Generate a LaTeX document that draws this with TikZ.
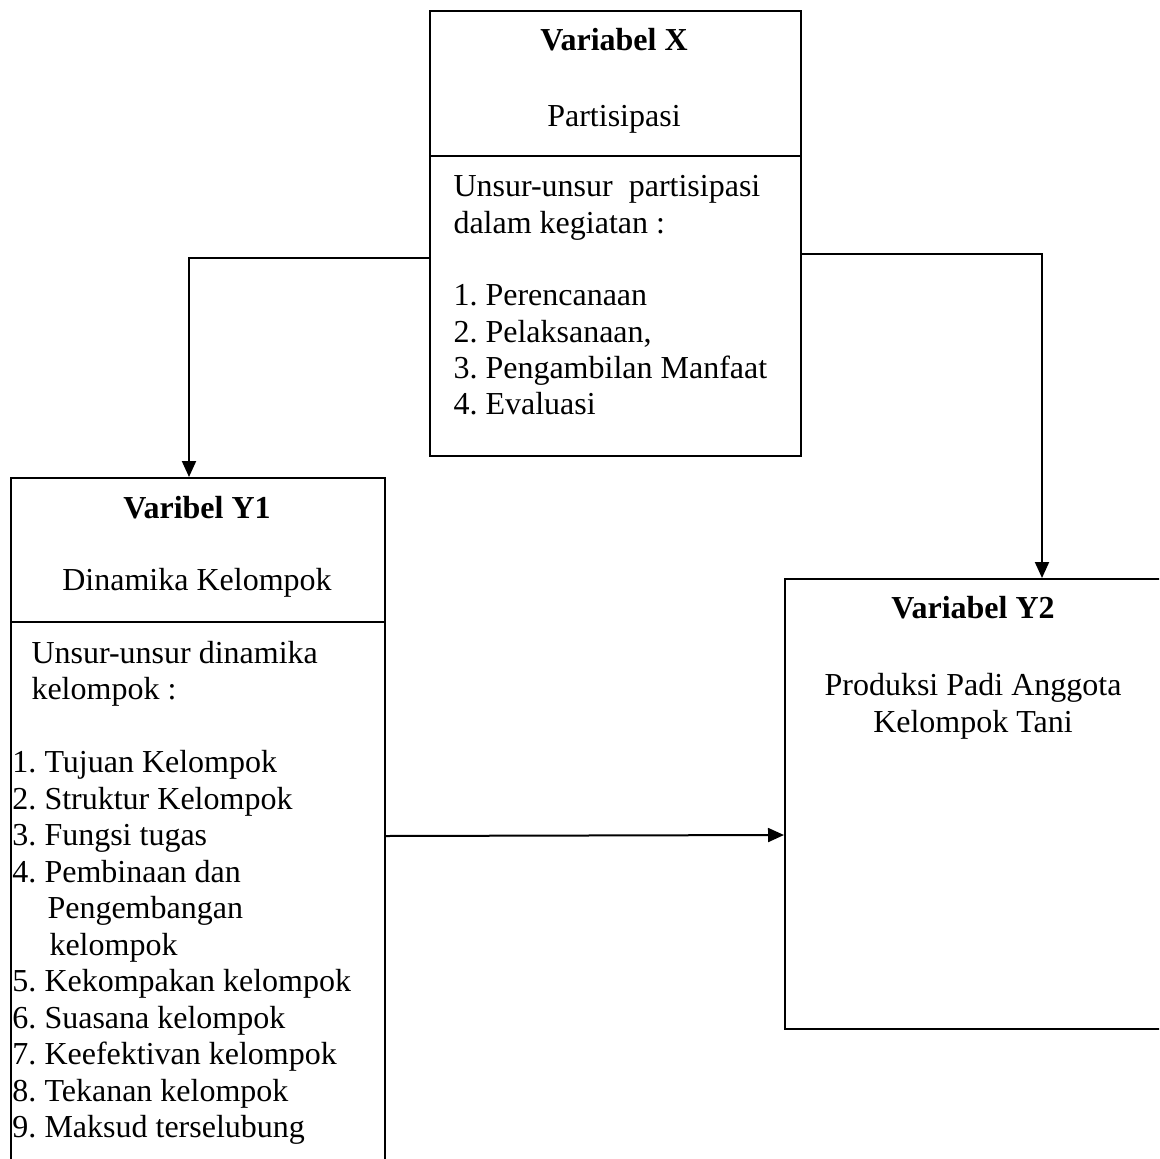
\documentclass[tikz,border=0pt]{standalone}
\usepackage{fontspec}
\setmainfont{Liberation Serif}
\usetikzlibrary{arrows.meta}
\frenchspacing
\begin{document}
\begin{tikzpicture}[x=0.4pt,y=-0.4pt,
  box/.style={draw,line width=0.8pt,rectangle,inner sep=0pt,anchor=north west},
  conn/.style={line width=0.8pt},
  arr/.style={conn,-{Triangle[length=6.4pt,width=5.6pt]}},
  txt/.style={inner sep=0pt,font=\fontsize{12.8}{15}\selectfont\frenchspacing},
  head/.style={txt,anchor=base,font=\fontsize{12.8}{15}\selectfont\bfseries},
  ctxt/.style={txt,anchor=base},
  ltxt/.style={txt,anchor=base west}]
\useasboundingbox (0,0) rectangle (1159,1159);
\clip (0,0) rectangle (1159,1159);

% boxes
\node[box,minimum width=148.4pt,minimum height=178pt] (X) at (429,10) {};
\node[box,minimum width=149.6pt,minimum height=281.2pt] (Y1) at (10,477) {};
\node[box,minimum width=152.4pt,minimum height=180pt] (Y2) at (784,578) {};

% dividers
\draw[conn] (X.west |- 0,156) -- (X.east |- 0,156);
\draw[conn] (Y1.west |- 0,622) -- (Y1.east |- 0,622);

% Variabel X
\node[head] (xh) at (614,51) {Variabel X};
\node[ctxt] (xs) at (614,126) {Partisipasi};
\node[ltxt] (x1) at (453,197) {Unsur-unsur\ \ partisipasi};
\node[ltxt] (x2) at (453,233.3) {dalam kegiatan :};
\node[ltxt] (x3) at (453,305.9) {1. Perencanaan};
\node[ltxt] (x4) at (453,342.2) {2. Pelaksanaan,};
\node[ltxt] (x5) at (453,378.5) {3. Pengambilan Manfaat};
\node[ltxt] (x6) at (453,414.8) {4. Evaluasi};

% Varibel Y1
\node[head] (yh) at (197,518) {Varibel Y1};
\node[ctxt] (ys) at (197,590) {Dinamika Kelompok};
\node[ltxt] (y1) at (31,663) {Unsur-unsur dinamika};
\node[ltxt] (y2) at (31,699.5) {kelompok :};
\node[ltxt] (y3) at (12,772.5) {1. Tujuan Kelompok};
\node[ltxt] (y4) at (12,809) {2. Struktur Kelompok};
\node[ltxt] (y5) at (12,845.5) {3. Fungsi tugas};
\node[ltxt] (y6) at (12,882) {4. Pembinaan dan};
\node[ltxt] (y7) at (47,918.5) {Pengembangan};
\node[ltxt] (y8) at (49,955) {kelompok};
\node[ltxt] (y9) at (12,991.5) {5. Kekompakan kelompok};
\node[ltxt] (y10) at (12,1028) {6. Suasana kelompok};
\node[ltxt] (y11) at (12,1064.5) {7. Keefektivan kelompok};
\node[ltxt] (y12) at (12,1101) {8. Tekanan kelompok};
\node[ltxt] (y13) at (12,1137.5) {9. Maksud terselubung};

% Variabel Y2
\node[head] (zh) at (973,618) {Variabel Y2};
\node[ctxt] (z1) at (973,695) {Produksi Padi Anggota};
\node[ctxt] (z2) at (973,732) {Kelompok Tani};

% connectors
\coordinate (lc) at (189,258);
\coordinate (rc) at (1042,254);
\draw[arr] (X.west |- lc) -- (lc) -- (lc |- Y1.north);
\draw[arr] (X.east |- rc) -- (rc) -- (rc |- Y2.north);
\draw[arr] (Y1.east |- 0,836) -- (Y2.west |- 0,835);
\end{tikzpicture}
\end{document}
